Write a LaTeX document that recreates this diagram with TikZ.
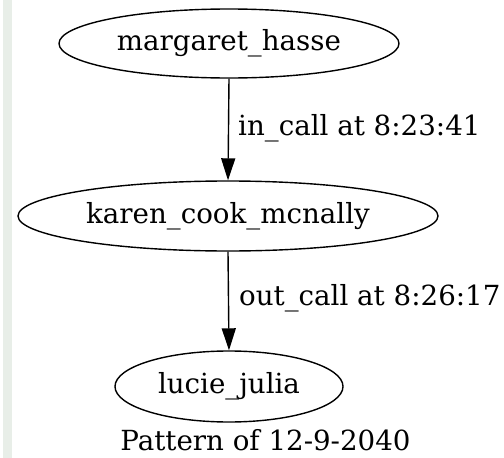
\documentclass[tikz,border=0pt]{standalone}
\usepackage{fontspec}
\setmainfont{DejaVu Serif}
\usetikzlibrary{shapes.geometric,arrows.meta}
\definecolor{stripgray}{HTML}{E8EEE8}
\tikzset{labelfont/.style={font=\fontsize{27.7}{30}\selectfont}}
\begin{document}
\begin{tikzpicture}[x=1pt,y=-1pt,
  person/.style={draw, ellipse, line width=1.4pt, inner sep=0pt, labelfont},
  call/.style={-{Triangle[length=22pt,width=14pt]}, line width=1.4pt},
  calllabel/.style={anchor=west, inner sep=0pt, labelfont},
  caption/.style={inner sep=0pt, labelfont}]
  \useasboundingbox (0,0) rectangle (504,458);
  \fill[white] (0,0) rectangle (504,458);
  % side strip
  \fill[stripgray] (3,0) rectangle (12,458);
  % people
  \node[person, minimum width=340pt, minimum height=69pt] (m) at (229,43.5) {margaret\_hasse};
  \node[person, minimum width=420pt, minimum height=70pt] (k) at (228,216) {karen\_cook\_mcnally};
  \node[person, minimum width=228pt, minimum height=71pt] (l) at (229,386.5) {lucie\_julia};
  % calls
  \draw[call] (m.south) -- (k.north);
  \draw[call] (k.south) -- (l.north);
  \node[calllabel] (c1) at (238,128) {in\_call at 8:23:41};
  \node[calllabel] (c2) at (239,298) {out\_call at 8:26:17};
  % caption
  \node[caption] (cap) at (265.5,440) {Pattern of 12-9-2040};
\end{tikzpicture}
\end{document}
